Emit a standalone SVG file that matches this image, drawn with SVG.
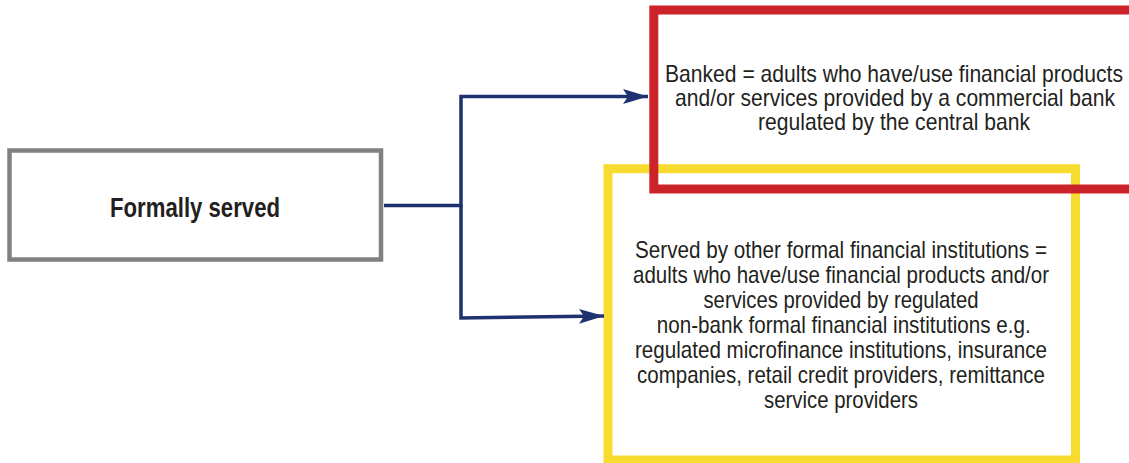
<svg xmlns="http://www.w3.org/2000/svg" width="1129" height="463" viewBox="0 0 1129 463">
  <style>
    .t { font-family: "Liberation Sans", Arial, sans-serif; fill: #231f20; text-anchor: middle; }
    .body { font-size: 23px; }
    .title { font-size: 28px; font-weight: bold; }
    .conn { fill: none; stroke: #1f3270; stroke-width: 3.5; }
  </style>
  <defs>
    <marker id="arrow" markerUnits="userSpaceOnUse" markerWidth="26" markerHeight="16" refX="25" refY="7.5" orient="auto">
      <path d="M0,0 L25,7.5 L0,15 L5,7.5 Z" fill="#1f3270"/>
    </marker>
  </defs>
  <rect width="1129" height="463" fill="#ffffff"/>

  <g id="node-formally-served">
    <rect x="9.5" y="150.5" width="371.5" height="109" fill="#ffffff" stroke="#808080" stroke-width="4.5"/>
    <text class="t title" transform="matrix(0.8,0,0,1,195,216.5)" textLength="212.5" lengthAdjust="spacingAndGlyphs">Formally served</text>
  </g>

  <g id="node-other-formal">
    <rect x="608" y="168.7" width="467.5" height="291.3" fill="none" stroke="#f7dc2f" stroke-width="9"/>
    <text class="t body" transform="matrix(0.9,0,0,1,841,258.3)" textLength="457.8" lengthAdjust="spacingAndGlyphs">Served by other formal financial institutions =</text>
    <text class="t body" transform="matrix(0.9,0,0,1,841,283.3)" textLength="462.2" lengthAdjust="spacingAndGlyphs">adults who have/use financial products and/or</text>
    <text class="t body" transform="matrix(0.9,0,0,1,841,308.3)" textLength="305.6" lengthAdjust="spacingAndGlyphs">services provided by regulated</text>
    <text class="t body" transform="matrix(0.9,0,0,1,843.7,333.3)" textLength="415.6" lengthAdjust="spacingAndGlyphs">non-bank formal financial institutions e.g.</text>
    <text class="t body" transform="matrix(0.9,0,0,1,841,358.3)" textLength="457.8" lengthAdjust="spacingAndGlyphs">regulated microfinance institutions, insurance</text>
    <text class="t body" transform="matrix(0.9,0,0,1,841,383.3)" textLength="453.3" lengthAdjust="spacingAndGlyphs">companies, retail credit providers, remittance</text>
    <text class="t body" transform="matrix(0.9,0,0,1,841,408.3)" textLength="171.1" lengthAdjust="spacingAndGlyphs">service providers</text>
  </g>

  <g id="node-banked">
    <rect x="653.8" y="10" width="490" height="179" fill="none" stroke="#cc2229" stroke-width="9"/>
    <text class="t body" transform="matrix(0.9,0,0,1,894,81.7)" textLength="508.9" lengthAdjust="spacingAndGlyphs">Banked = adults who have/use financial products</text>
    <text class="t body" transform="matrix(0.9,0,0,1,895,106)" textLength="488.9" lengthAdjust="spacingAndGlyphs">and/or services provided by a commercial bank</text>
    <text class="t body" transform="matrix(0.9,0,0,1,894,129.5)" textLength="302.2" lengthAdjust="spacingAndGlyphs">regulated by the central bank</text>
  </g>

  <g id="connectors">
    <path class="conn" d="M384,205.5 H461 V96.5 H648" marker-end="url(#arrow)"/>
    <path class="conn" d="M461,205.5 V318 L604,316" marker-end="url(#arrow)"/>
  </g>
</svg>
